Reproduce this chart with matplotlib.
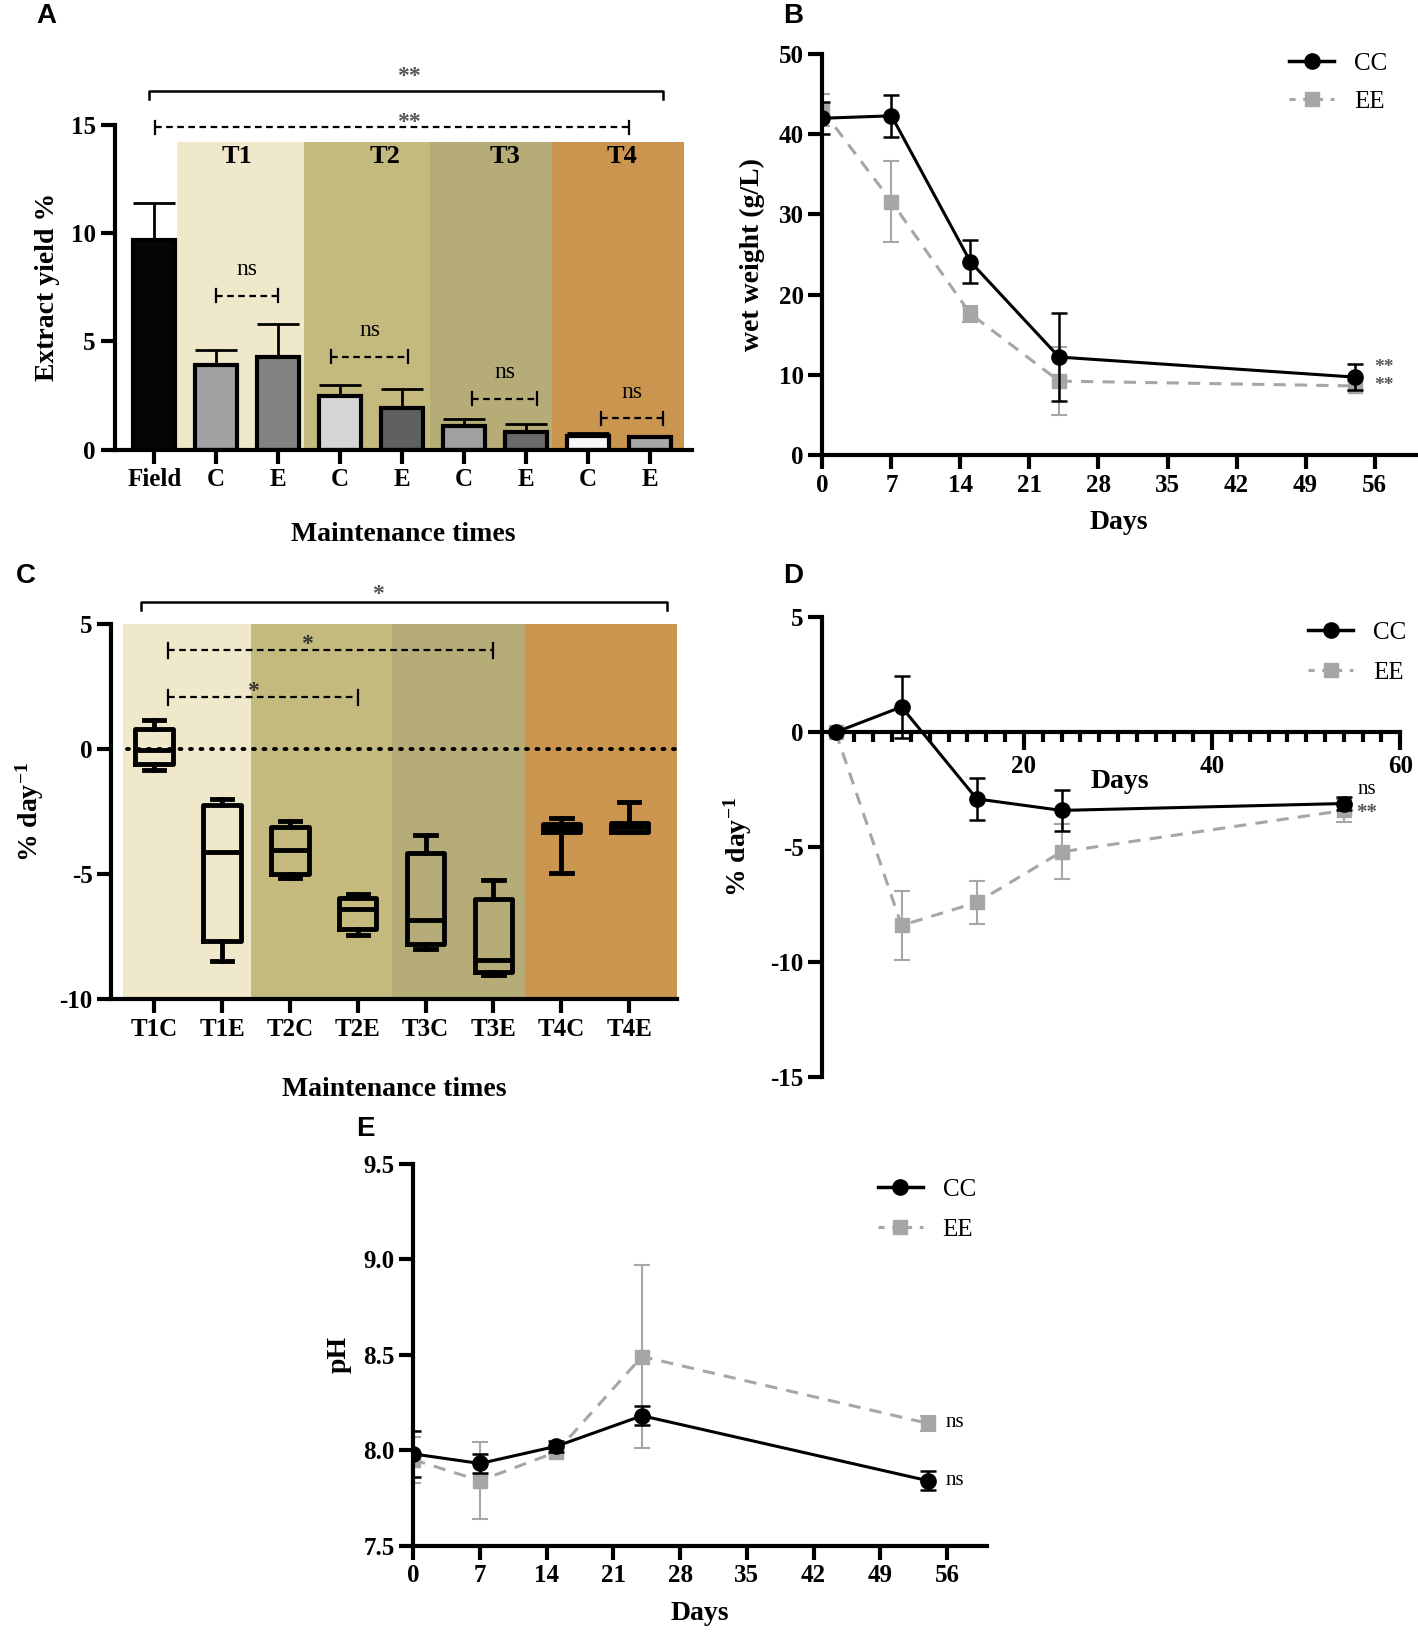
import matplotlib
matplotlib.use("Agg")
import matplotlib.pyplot as plt
from matplotlib.patches import Rectangle
from matplotlib.lines import Line2D
import numpy as np

plt.rcParams['font.family'] = ['Liberation Serif', 'DejaVu Serif']
plt.rcParams['font.weight'] = 'bold'
plt.rcParams['axes.labelweight'] = 'bold'
plt.rcParams['axes.unicode_minus'] = False
plt.rcParams['mathtext.fontset'] = 'custom'
plt.rcParams['mathtext.rm'] = 'Liberation Serif:bold'
plt.rcParams['mathtext.bf'] = 'Liberation Serif:bold'
plt.rcParams['mathtext.it'] = 'Liberation Serif:bold'
plt.rcParams['mathtext.default'] = 'bf'

# ---------------- data ----------------
# Panel A
A_labels = ['Field', 'C', 'E', 'C', 'E', 'C', 'E', 'C', 'E']
A_vals = [9.7, 3.9, 4.3, 2.5, 1.9, 1.1, 0.8, 0.65, 0.6]
A_err = [1.7, 0.7, 1.5, 0.5, 0.9, 0.3, 0.4, 0.1, 0.05]
A_colors = ['#050505', '#a2a2a4', '#828282', '#d6d6d6', '#606060',
            '#a0a0a2', '#6a6a6a', '#f7f7f7', '#a8a8aa']
A_groups = ['T1', 'T2', 'T3', 'T4']
A_group_edges = [0.36, 2.42, 4.45, 6.42, 8.55]
A_group_label_x = [1.33, 3.73, 5.65, 7.55]
A_group_colors = ['#efe8cb', '#c5ba7e', '#b6ac78', '#c9954f']
A_ns_pairs = [(1, 2, 7.1), (2.85, 4.1, 4.28), (5.13, 6.18, 2.36), (7.2, 8.2, 1.44)]

# Panel B
B_days = [0, 7, 15, 24, 54]
B_cc = [42.0, 42.3, 24.1, 12.2, 9.7]
B_cc_err = [2.0, 2.6, 2.65, 5.45, 1.6]
B_ee = [43.0, 31.6, 17.6, 9.2, 8.6]
B_ee_err = [2.0, 5.1, 1.0, 4.2, 0.6]

# Panel C (five-number summaries)
C_labels = ['T1C', 'T1E', 'T2C', 'T2E', 'T3C', 'T3E', 'T4C', 'T4E']
C_min = [-0.84, -8.49, -5.14, -7.45, -8.0, -9.04, -4.96, -3.3]
C_q1 = [-0.6, -7.66, -5.0, -7.21, -7.79, -8.9, -3.3, -3.3]
C_med = [-0.02, -4.1, -4.03, -6.4, -6.83, -8.42, -3.16, -3.09]
C_q3 = [0.81, -2.22, -3.09, -5.95, -4.13, -6.0, -2.98, -2.95]
C_max = [1.17, -1.98, -2.88, -5.79, -3.44, -5.24, -2.75, -2.12]
C_group_edges = [-0.46, 1.42, 3.51, 5.47, 7.86]

# Panel D
D_days = [0, 7, 15, 24, 54]
D_cc = [0.0, 1.1, -2.9, -3.4, -3.1]
D_cc_err = [0.0, 1.35, 0.9, 0.9, 0.3]
D_ee = [0.0, -8.4, -7.4, -5.2, -3.4]
D_ee_err = [0.0, 1.5, 0.95, 1.2, 0.5]

# Panel E
E_days = [0, 7, 15, 24, 54]
E_cc = [7.98, 7.93, 8.02, 8.18, 7.84]
E_cc_err = [0.12, 0.05, 0.03, 0.05, 0.05]
E_ee = [7.95, 7.84, 7.99, 8.49, 8.14]
E_ee_err = [0.12, 0.20, 0.01, 0.48, 0.04]

# ---------------- layout helpers ----------------
W, H = 1362.0, 1568.0
fig = plt.figure(figsize=(14.18, 16.32), dpi=100)


def rect(l, t, r, b):
    return [l / W, 1 - b / H, (r - l) / W, (b - t) / H]


GRAY = '#a6a6a6'
TICK_FS = 18
LAB_FS = 20
LW = 3
LEG_PROP = {'family': 'Liberation Serif', 'size': 18, 'weight': 'normal'}


def style(ax):
    for s in ['top', 'right']:
        ax.spines[s].set_visible(False)
    for s in ['left', 'bottom']:
        ax.spines[s].set_linewidth(LW)
    ax.tick_params(width=LW, length=10, labelsize=TICK_FS, direction='out')
    for lab in ax.get_xticklabels() + ax.get_yticklabels():
        lab.set_fontweight('bold')


def panel_letter(x, y, s):
    fig.text(x / W, 1 - y / H, s, fontsize=20, fontweight='bold',
             family='Liberation Sans', ha='left', va='center')


def legend_handles():
    return [Line2D([], [], color='black', lw=2.5, marker='o', ms=11),
            Line2D([], [], color=GRAY, lw=2.2, ls=(0, (2, 2.5)), marker='s', ms=10)]


def series(ax, days, cc, cc_err, ee, ee_err):
    ax.errorbar(days, ee, yerr=ee_err, color=GRAY, ls='--', lw=2.2, marker='s', ms=10,
                capsize=6, elinewidth=1.5, capthick=1.5, dashes=(4, 3), zorder=2)
    ax.errorbar(days, cc, yerr=cc_err, color='black', ls='-', lw=2.2, marker='o', ms=11,
                capsize=6, elinewidth=1.8, capthick=1.8, zorder=3)


# ---------------- Panel A ----------------
axA = fig.add_axes(rect(110, 120, 665, 432))
xA = np.arange(len(A_vals))
for (x0, x1), c in zip(zip(A_group_edges[:-1], A_group_edges[1:]), A_group_colors):
    axA.add_patch(Rectangle((x0, 0), x1 - x0, 14.2, facecolor=c, edgecolor='none', zorder=0))
axA.bar(xA, A_vals, width=0.67, color=A_colors, edgecolor='black', linewidth=3, zorder=2,
        yerr=[np.zeros(len(A_err)), A_err],
        error_kw=dict(ecolor='black', elinewidth=2, capsize=15, capthick=2, zorder=1))
axA.set_xlim(-0.64, 8.68)
axA.set_ylim(0, 15)
axA.set_yticks([0, 5, 10, 15])
axA.set_xticks(xA)
axA.set_xticklabels(A_labels)
style(axA)
axA.set_ylabel('Extract yield %', fontsize=LAB_FS, labelpad=8)
axA.set_xlabel('Maintenance times', fontsize=LAB_FS, labelpad=22)
for g, gx in zip(A_groups, A_group_label_x):
    axA.text(gx, 13.55, g, ha='center', va='center', fontsize=19, fontweight='bold')
# solid bracket
axA.plot([-0.08, -0.08, 8.2, 8.2], [16.2, 16.55, 16.55, 16.2], color='black', lw=1.8, clip_on=False)
axA.text(4.1, 17.25, '**', ha='center', va='center', fontsize=17, color='#555555')
# dashed bracket
axA.plot([0.02, 7.66], [14.9, 14.9], color='black', lw=1.6, ls=(0, (3, 2)), clip_on=False)
for xx in [0.02, 7.66]:
    axA.plot([xx, xx], [14.6, 15.2], color='black', lw=1.6, clip_on=False)
axA.text(4.1, 15.1, '**', ha='center', va='center', fontsize=17, color='#555555')
for x0, x1, yy in A_ns_pairs:
    axA.plot([x0, x1], [yy, yy], color='black', lw=1.6, ls=(0, (3, 2)), zorder=3)
    for xx in [x0, x1]:
        axA.plot([xx, xx], [yy - 0.3, yy + 0.3], color='black', lw=1.6, zorder=3)
    axA.text((x0 + x1) / 2, yy + 1.2, 'ns', ha='center', va='center', fontsize=17, fontweight='normal')

# ---------------- Panel B ----------------
axB = fig.add_axes(rect(790, 52, 1360, 437))
series(axB, B_days, B_cc, B_cc_err, B_ee, B_ee_err)
axB.set_xlim(0, 60.2)
axB.set_ylim(0, 50)
axB.set_xticks(range(0, 57, 7))
axB.set_yticks(range(0, 51, 10))
style(axB)
axB.set_ylabel('wet weight (g/L)', fontsize=LAB_FS, labelpad=10)
axB.set_xlabel('Days', fontsize=LAB_FS, labelpad=10)
axB.text(56.0, 10.9, '**', ha='left', va='center', fontsize=14, color='#555555')
axB.text(56.0, 8.6, '**', ha='left', va='center', fontsize=14, color='#555555')
axB.legend(legend_handles(), ['CC', 'EE'], loc='upper right', bbox_to_anchor=(0.99, 1.06),
           frameon=False, prop=LEG_PROP, handlelength=1.8, labelspacing=0.6)

# ---------------- Panel C ----------------
axC = fig.add_axes(rect(107, 600, 650, 960))
for (x0, x1), c in zip(zip(C_group_edges[:-1], C_group_edges[1:]), A_group_colors):
    axC.add_patch(Rectangle((x0, -10), x1 - x0, 15, facecolor=c, edgecolor='none', zorder=0))
stats = []
for i in range(len(C_labels)):
    stats.append(dict(med=C_med[i], q1=C_q1[i], q3=C_q3[i], whislo=C_min[i], whishi=C_max[i],
                      fliers=[], label=C_labels[i]))
lp = dict(color='black', linewidth=3.5)
axC.bxp(stats, positions=np.arange(len(C_labels)), widths=0.55, showfliers=False,
        boxprops=lp, whiskerprops=lp, capprops=lp, medianprops=lp, capwidths=0.3,
        manage_ticks=False)
axC.plot([-0.4, 7.7], [0, 0], color='black', lw=2.8, ls=(0, (0.5, 2.2)),
         dash_capstyle='round', zorder=1)
axC.set_xlim(-0.63, 7.7)
axC.set_ylim(-10, 5)
axC.set_xticks(np.arange(len(C_labels)))
axC.set_xticklabels(C_labels)
axC.set_yticks([-10, -5, 0, 5])
style(axC)
axC.set_ylabel('% day$^{-1}$', fontsize=LAB_FS, labelpad=10)
axC.set_xlabel('Maintenance times', fontsize=LAB_FS, labelpad=26)
axC.plot([-0.2, -0.2, 7.55, 7.55], [5.6, 5.92, 5.92, 5.6], color='black', lw=1.8, clip_on=False)
axC.text(3.3, 6.2, '*', ha='center', va='center', fontsize=17, color='#555555')
for x0, x1, yy, xs in [(0.2, 5.0, 3.96, 2.25), (0.2, 3.0, 2.08, 1.45)]:
    axC.plot([x0, x1], [yy, yy], color='black', lw=1.6, ls=(0, (3, 2)), zorder=3)
    for xx in [x0, x1]:
        axC.plot([xx, xx], [yy - 0.3, yy + 0.3], color='black', lw=1.6, zorder=3)
    axC.text(xs, yy + 0.25, '*', ha='center', va='center', fontsize=17, color='#333333')

# ---------------- Panel D ----------------
axD = fig.add_axes(rect(790, 593, 1345, 1035))
series(axD, D_days, D_cc, D_cc_err, D_ee, D_ee_err)
axD.set_xlim(-1.4, 60)
axD.set_ylim(-15, 5)
axD.spines['bottom'].set_position(('data', 0))
axD.set_xticks([20, 40, 60])
axD.set_xticks(np.arange(2, 60, 2), minor=True)
axD.set_yticks([-15, -10, -5, 0, 5])
style(axD)
axD.tick_params(axis='x', which='minor', width=LW, length=7, direction='out')
axD.tick_params(axis='x', which='major', length=13)
axD.set_ylabel('% day$^{-1}$', fontsize=LAB_FS, labelpad=12)
axD.text(30.2, -2.15, 'Days', ha='center', va='center', fontsize=LAB_FS, fontweight='bold')
axD.text(55.5, -2.5, 'ns', ha='left', va='center', fontsize=15, fontweight='normal')
axD.text(55.3, -3.5, '**', ha='left', va='center', fontsize=15, color='#555555')
axD.legend(legend_handles(), ['CC', 'EE'], loc='upper right', bbox_to_anchor=(1.05, 1.04),
           frameon=False, prop=LEG_PROP, handlelength=1.8, labelspacing=0.7)

# ---------------- Panel E ----------------
axE = fig.add_axes(rect(397, 1118, 948, 1485))
series(axE, E_days, E_cc, E_cc_err, E_ee, E_ee_err)
axE.set_xlim(0, 60.2)
axE.set_ylim(7.5, 9.5)
axE.set_xticks(range(0, 57, 7))
axE.set_yticks([7.5, 8.0, 8.5, 9.0, 9.5])
axE.set_yticklabels(['7.5', '8.0', '8.5', '9.0', '9.5'])
style(axE)
axE.set_ylabel('pH', fontsize=LAB_FS, labelpad=8)
axE.set_xlabel('Days', fontsize=LAB_FS, labelpad=10)
axE.text(55.8, 8.145, 'ns', ha='left', va='center', fontsize=15, fontweight='normal')
axE.text(55.8, 7.84, 'ns', ha='left', va='center', fontsize=15, fontweight='normal')
axE.legend(legend_handles(), ['CC', 'EE'], loc='upper right', bbox_to_anchor=(1.02, 1.02),
           frameon=False, prop=LEG_PROP, handlelength=1.8, labelspacing=0.7)

# panel letters
panel_letter(35, 15, 'A')
panel_letter(752, 15, 'B')
panel_letter(15, 553, 'C')
panel_letter(752, 553, 'D')
panel_letter(342, 1085, 'E')

fig.savefig('out.png', dpi=100)
